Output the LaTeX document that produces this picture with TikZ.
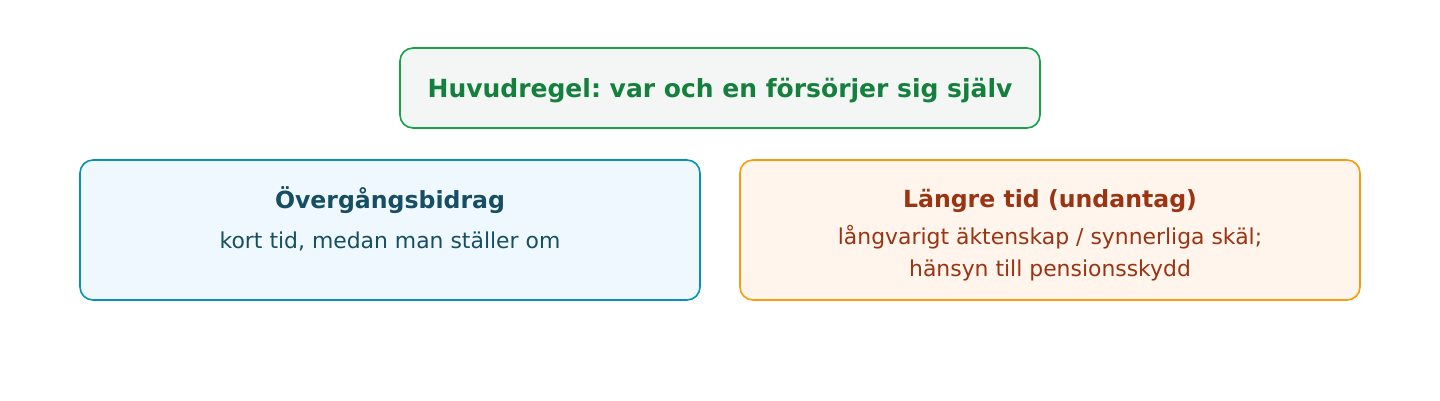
\documentclass[tikz,border=0pt]{standalone}
\usepackage{fontspec}
\setmainfont{DejaVu Sans}
\frenchspacing
\usetikzlibrary{positioning}
\definecolor{ruleline}{HTML}{16A34A}
\definecolor{rulefill}{HTML}{F3F6F4}
\definecolor{ruletext}{HTML}{15803D}
\definecolor{shortline}{HTML}{0891B2}
\definecolor{shortfill}{HTML}{F0F8FF}
\definecolor{shorttext}{HTML}{164E63}
\definecolor{longline}{HTML}{F59E0B}
\definecolor{longfill}{HTML}{FFF5EC}
\definecolor{longtext}{HTML}{9A3412}
\tikzset{
  casebox/.style={rectangle, rounded corners=13pt, line width=1.6pt, inner sep=0pt},
  headtext/.style={font=\fontsize{23.6}{28}\selectfont\bfseries, inner sep=0pt},
  bodytext/.style={font=\fontsize{21.9}{32}\selectfont, align=center, inner sep=0pt}
}
\begin{document}
\begin{tikzpicture}[x=1pt, y=-1pt]
    \useasboundingbox (0,0) rectangle (1440,400);

    % Main rule
    \node[casebox, draw=ruleline, fill=rulefill, minimum width=640pt, minimum height=80pt] (rule) at (720,88) {};
    \node[headtext, font=\fontsize{25}{28}\selectfont\bfseries, text=ruletext] (ruletitle) at (720,90.5) {Huvudregel: var och en försörjer sig själv};

    % Short period
    \node[casebox, draw=shortline, fill=shortfill, minimum width=620pt, minimum height=140pt] (short) at (390,230) {};
    \node[headtext, text=shorttext] (shorttitle) at (390,200) {Övergångsbidrag};
    \node[bodytext, text=shorttext] (shortbody) at (390,241) {kort tid, medan man ställer om};

    % Longer period
    \node[casebox, draw=longline, fill=longfill, minimum width=620pt, minimum height=140pt] (long) at (1050,230) {};
    \node[headtext, text=longtext] (longtitle) at (1050,200.5) {Längre tid (undantag)};
    \node[bodytext, text=longtext] (longbody) at (1050,253) {långvarigt äktenskap / synnerliga skäl;\\hänsyn till pensionsskydd};
\end{tikzpicture}
\end{document}
